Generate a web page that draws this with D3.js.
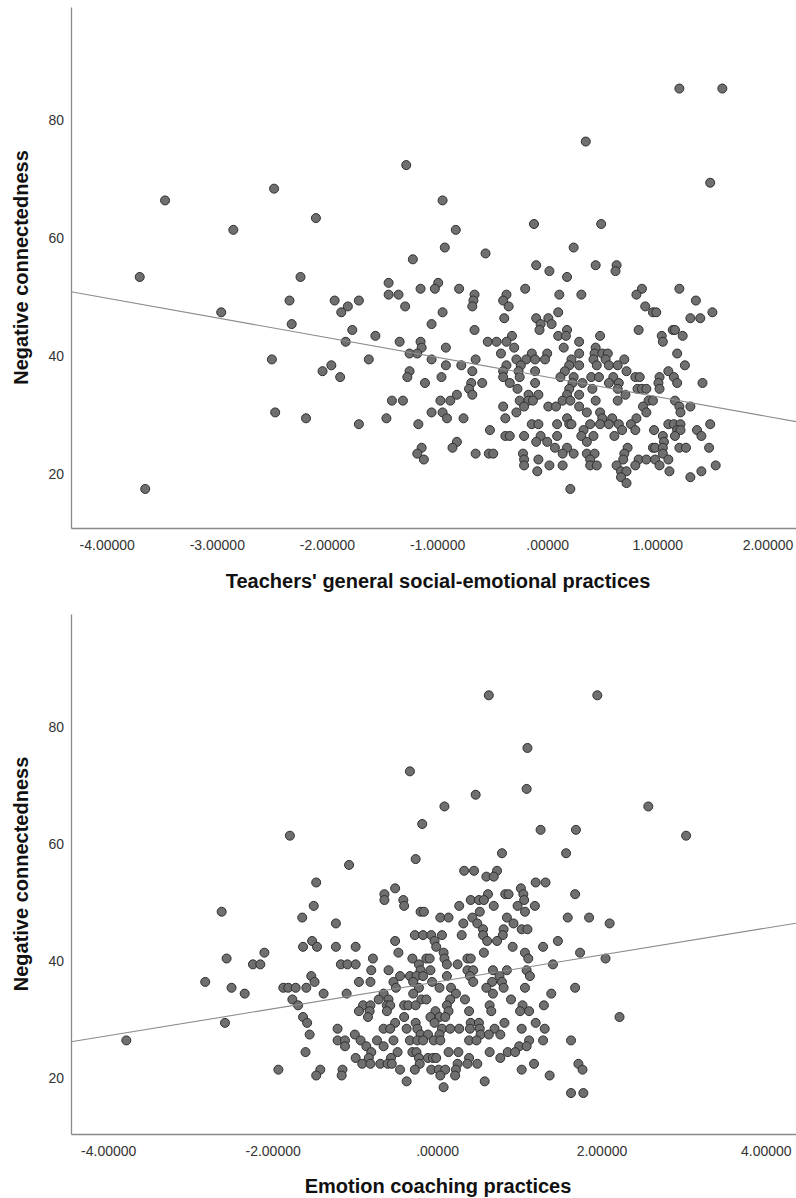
<!DOCTYPE html>
<html>
<head>
<meta charset="utf-8">
<script src="https://cdn.jsdelivr.net/npm/d3@7"></script>
<style>
  body { margin: 0; background: #fff; }
  svg text { font-family: "Liberation Sans", Arial, sans-serif; }
</style>
</head>
<body>
<script>
// tick values
const yTicks = [20, 40, 60, 80];
const gseTicks = [-4, -3, -2, -1, 0, 1, 2];
const ecTicks = [-4, -2, 0, 2, 4];

// fit lines: [intercept, slope]
const gseFit = [36.0, -3.35];
const ecFit = [36.0, 2.30];

// [practice score, negative connectedness]
const gsePoints = [
  [1.20, 85], [1.59, 85], [0.35, 76], [-1.28, 72], [1.48, 69], [-2.48, 68],
  [-3.47, 66], [-0.95, 66], [-2.10, 63], [-0.12, 62], [0.49, 62],
  [-2.85, 61], [-0.83, 61], [-0.93, 58], [0.24, 58], [-0.56, 57], [-1.22, 56],
  [-0.10, 55], [0.44, 55], [0.63, 55], [0.02, 54], [0.62, 54],
  [-3.70, 53], [-2.24, 53], [0.18, 53], [-1.44, 52], [-0.99, 52],
  [-1.15, 51], [-1.02, 51], [-0.80, 51], [-0.20, 51], [0.86, 51], [1.20, 51],
  [-1.44, 50], [-1.35, 50], [-0.66, 50], [-0.37, 50], [0.11, 50], [0.31, 50], [0.81, 50],
  [-2.34, 49], [-1.93, 49], [-1.71, 49], [-0.67, 49], [-0.40, 49], [1.35, 49],
  [-1.81, 48], [-1.29, 48], [-0.68, 48], [-0.35, 48], [0.89, 48],
  [-2.96, 47], [-1.87, 47], [-0.95, 47], [0.10, 47], [0.96, 47], [0.99, 47], [1.50, 47],
  [-0.39, 46], [-0.10, 46], [0.01, 46], [1.30, 46], [1.39, 46],
  [-2.32, 45], [-1.05, 45], [-0.06, 45], [0.04, 45],
  [-1.77, 44], [-0.66, 44], [-0.07, 44], [0.18, 44], [0.83, 44], [1.14, 44], [1.16, 44],
  [-1.56, 43], [-0.32, 43], [0.10, 43], [0.17, 43], [0.48, 43], [1.04, 43], [1.23, 43],
  [-1.83, 42], [-1.34, 42], [-1.15, 42], [-0.54, 42], [-0.46, 42], [-0.37, 42], [0.29, 42], [1.05, 42],
  [-1.14, 41], [-0.92, 41], [-0.30, 41], [0.15, 41], [0.44, 41],
  [-1.25, 40], [-1.18, 40], [-0.42, 40], [-0.14, 40], [0.00, 40], [0.29, 40], [0.43, 40], [0.50, 40], [0.55, 40], [1.18, 40],
  [-2.50, 39], [-1.62, 39], [-1.05, 39], [-0.65, 39], [-0.28, 39], [-0.19, 39], [-0.11, 39], [-0.02, 39], [0.22, 39], [0.42, 39], [0.53, 39], [0.70, 39],
  [-1.96, 38], [-0.92, 38], [-0.78, 38], [-0.37, 38], [-0.24, 38], [0.20, 38], [0.29, 38], [0.45, 38], [0.56, 38], [0.64, 38], [1.25, 38],
  [-2.04, 37], [-1.25, 37], [-0.68, 37], [-0.40, 37], [-0.26, 37], [-0.11, 37], [0.16, 37], [0.72, 37], [1.10, 37],
  [-1.88, 36], [-1.27, 36], [-0.96, 36], [-0.40, 36], [-0.25, 36], [0.12, 36], [0.24, 36], [0.40, 36], [0.47, 36], [0.60, 36], [0.80, 36], [0.84, 36], [1.02, 36], [1.15, 36],
  [-1.11, 35], [-0.69, 35], [-0.59, 35], [-0.34, 35], [-0.11, 35], [0.23, 35], [0.32, 35], [0.56, 35], [0.65, 35], [1.01, 35], [1.18, 35], [1.41, 35],
  [-0.71, 34], [-0.27, 34], [0.20, 34], [0.41, 34], [0.64, 34], [0.82, 34], [0.86, 34], [0.90, 34], [1.02, 34],
  [-0.82, 33], [-0.68, 33], [-0.17, 33], [-0.08, 33], [0.18, 33], [0.29, 33], [0.71, 33],
  [-1.41, 32], [-1.31, 32], [-0.97, 32], [-0.88, 32], [-0.25, 32], [-0.17, 32], [-0.13, 32], [0.14, 32], [0.21, 32], [0.44, 32], [0.64, 32], [0.92, 32], [0.96, 32], [1.16, 32],
  [-0.40, 31], [-0.21, 31], [0.01, 31], [0.08, 31], [0.29, 31], [0.87, 31], [1.20, 31], [1.30, 31],
  [-2.47, 30], [-1.05, 30], [-0.95, 30], [-0.28, 30], [0.36, 30], [0.48, 30], [0.90, 30], [1.21, 30],
  [-2.19, 29], [-1.46, 29], [-0.91, 29], [-0.76, 29], [-0.38, 29], [0.18, 29], [0.50, 29], [0.59, 29], [0.81, 29],
  [-1.71, 28], [-1.17, 28], [-0.14, 28], [-0.08, 28], [0.09, 28], [0.20, 28], [0.22, 28], [0.39, 28], [0.48, 28], [0.56, 28], [0.65, 28], [0.76, 28], [1.10, 28], [1.15, 28], [1.21, 28], [1.48, 28],
  [-0.52, 27], [0.33, 27], [0.68, 27], [0.80, 27], [0.97, 27], [1.18, 27], [1.21, 27], [1.36, 27],
  [-0.38, 26], [-0.34, 26], [-0.21, 26], [-0.06, 26], [0.09, 26], [0.31, 26], [0.42, 26], [0.61, 26], [1.05, 26], [1.16, 26], [1.40, 26],
  [-0.82, 25], [-0.10, 25], [0.00, 25], [0.36, 25], [1.06, 25],
  [-1.14, 24], [-0.86, 24], [0.07, 24], [0.18, 24], [0.73, 24], [0.96, 24], [0.98, 24], [1.05, 24], [1.20, 24], [1.26, 24], [1.47, 24],
  [-1.18, 23], [-0.65, 23], [-0.53, 23], [-0.49, 23], [-0.22, 23], [0.14, 23], [0.24, 23], [0.36, 23], [0.43, 23], [0.70, 23], [1.05, 23],
  [-1.12, 22], [-0.21, 22], [-0.08, 22], [0.39, 22], [0.69, 22], [0.83, 22], [0.90, 22], [0.98, 22], [1.10, 22],
  [-0.21, 21], [0.02, 21], [0.14, 21], [0.39, 21], [0.45, 21], [0.63, 21], [0.80, 21], [1.02, 21], [1.53, 21],
  [-0.09, 20], [0.67, 20], [0.72, 20], [1.11, 20], [1.40, 20],
  [0.67, 19], [1.30, 19], [0.72, 18], [-3.65, 17], [0.21, 17]
];

const ecPoints = [
  [0.63, 85], [1.95, 85], [1.10, 76], [-0.33, 72], [1.09, 69], [0.47, 68],
  [0.09, 66], [2.57, 66], [-0.18, 63], [1.26, 62], [1.69, 62], [-1.79, 61], [3.03, 61],
  [0.79, 58], [1.57, 58], [-0.26, 57], [-1.07, 56],
  [0.33, 55], [0.45, 55], [0.73, 55], [0.60, 54], [0.69, 54],
  [-1.47, 53], [1.20, 53], [1.32, 53], [-0.51, 52], [1.02, 52],
  [-0.64, 51], [0.62, 51], [0.83, 51], [0.87, 51], [1.05, 51], [1.68, 51],
  [-0.64, 50], [-0.41, 50], [0.41, 50], [0.51, 50], [0.57, 50], [1.06, 50],
  [-1.50, 49], [-0.40, 49], [0.27, 49], [0.69, 49], [0.98, 49], [1.19, 49],
  [-2.62, 48], [-0.20, 48], [-0.16, 48], [0.52, 48], [1.07, 48],
  [-1.64, 47], [0.04, 47], [0.14, 47], [0.43, 47], [0.85, 47], [1.59, 47], [1.85, 47],
  [-1.23, 46], [0.32, 46], [0.49, 46], [0.93, 46], [2.10, 46],
  [0.56, 45], [0.81, 45], [1.03, 45], [1.10, 45],
  [-0.27, 44], [-0.17, 44], [-0.07, 44], [0.06, 44], [0.30, 44], [0.56, 44], [0.80, 44],
  [-1.52, 43], [-0.51, 43], [-0.03, 43], [0.61, 43], [0.73, 43], [1.47, 43],
  [-1.63, 42], [-1.46, 42], [-1.23, 42], [-0.99, 42], [-0.01, 42], [0.92, 42], [1.29, 42],
  [-2.10, 41], [-0.47, 41], [0.08, 41], [0.57, 41], [1.07, 41], [1.74, 41],
  [-2.56, 40], [-0.78, 40], [-0.30, 40], [-0.13, 40], [-0.09, 40], [0.09, 40], [0.37, 40], [0.41, 40], [1.11, 40], [2.05, 40],
  [-2.24, 39], [-2.15, 39], [-1.17, 39], [-1.09, 39], [-0.99, 39], [-0.22, 39], [0.12, 39], [0.25, 39], [1.41, 39],
  [-0.80, 38], [-0.59, 38], [-0.20, 38], [-0.08, 38], [0.37, 38], [0.44, 38], [0.68, 38], [0.85, 38], [1.09, 38],
  [-1.53, 37], [-0.45, 37], [-0.33, 37], [-0.25, 37], [-0.17, 37], [0.12, 37], [0.40, 37], [0.76, 37], [1.13, 37],
  [-2.82, 36], [-1.49, 36], [-0.95, 36], [-0.81, 36], [-0.53, 36], [-0.29, 36], [-0.06, 36], [0.44, 36], [0.67, 36], [0.79, 36],
  [-2.50, 35], [-1.87, 35], [-1.81, 35], [-1.72, 35], [-1.59, 35], [-0.50, 35], [-0.22, 35], [0.03, 35], [0.17, 35], [0.60, 35], [0.81, 35], [1.07, 35], [1.68, 35],
  [-2.34, 34], [-1.38, 34], [-1.10, 34], [-0.65, 34], [-0.29, 34], [0.23, 34], [0.68, 34], [1.39, 34],
  [-1.76, 33], [-0.71, 33], [-0.59, 33], [-0.19, 33], [-0.13, 33], [0.16, 33], [0.34, 33], [0.90, 33],
  [-1.69, 32], [-0.90, 32], [-0.81, 32], [-0.61, 32], [-0.57, 32], [-0.40, 32], [-0.35, 32], [-0.26, 32], [0.12, 32], [0.64, 32], [1.04, 32], [1.30, 32],
  [-0.95, 31], [-0.82, 31], [-0.61, 31], [-0.02, 31], [0.14, 31], [0.39, 31], [0.66, 31], [1.01, 31], [1.12, 31],
  [-1.63, 30], [-0.84, 30], [-0.40, 30], [-0.08, 30], [0.03, 30], [0.10, 30], [2.22, 30],
  [-2.58, 29], [-1.58, 29], [-0.51, 29], [-0.26, 29], [-0.03, 29], [0.41, 29], [0.51, 29], [0.82, 29], [1.20, 29],
  [-1.21, 28], [-0.65, 28], [-0.57, 28], [-0.37, 28], [-0.24, 28], [0.06, 28], [0.16, 28], [0.27, 28], [0.40, 28], [0.52, 28], [0.70, 28], [1.03, 28], [1.31, 28],
  [-1.55, 27], [-1.00, 27], [-0.20, 27], [-0.11, 27], [0.03, 27], [0.53, 27], [0.63, 27], [0.77, 27],
  [-3.78, 26], [-1.21, 26], [-1.12, 26], [-0.93, 26], [-0.73, 26], [-0.53, 26], [-0.33, 26], [-0.24, 26], [-0.17, 26], [-0.04, 26], [0.04, 26], [0.39, 26], [0.48, 26], [1.12, 26], [1.29, 26], [1.63, 26],
  [-1.12, 25], [-0.86, 25], [-0.65, 25], [1.00, 25], [1.09, 25],
  [-1.60, 24], [-0.80, 24], [-0.48, 24], [-0.30, 24], [-0.25, 24], [0.14, 24], [0.26, 24], [0.64, 24], [0.86, 24], [0.95, 24],
  [-0.99, 23], [-0.83, 23], [-0.56, 23], [-0.22, 23], [-0.11, 23], [-0.05, 23], [-0.01, 23], [0.39, 23], [0.77, 23],
  [-0.91, 22], [-0.81, 22], [-0.69, 22], [-0.60, 22], [-0.55, 22], [-0.21, 22], [0.25, 22], [0.37, 22], [0.49, 22], [1.18, 22], [1.72, 22],
  [-1.93, 21], [-1.42, 21], [-1.15, 21], [-0.45, 21], [-0.27, 21], [-0.07, 21], [0.02, 21], [0.10, 21], [0.23, 21], [1.03, 21], [1.77, 21],
  [-1.47, 20], [-1.16, 20], [0.04, 20], [0.22, 20], [1.37, 20],
  [-0.37, 19], [0.58, 19], [0.08, 18], [1.63, 17], [1.78, 17]
];

let w = 796;
let h = 1198;
let left = 71;
let right = 796;

let svg = d3.select("body")
  .append("svg")
  .attr("width", w)
  .attr("height", h);

function tickText(d) {
  let s = d.toFixed(5);
  return s.startsWith("0.") ? s.slice(1) : s;
}

function drawPanel(points, fit, xTicks, xTitle, p) {
  let xScale = d3.scaleLinear().domain(p.xDomain).range([left, right]);
  let yScale = d3.scaleLinear().domain(p.yDomain).range([p.bottom, p.top]);

  svg.append("g")
    .selectAll("circle")
    .data(points)
    .enter()
    .append("circle")
    .attr("cx", d => xScale(d[0]))
    .attr("cy", d => yScale(d[1]))
    .attr("r", 4.5)
    .attr("fill", "#6f6f6f")
    .attr("stroke", "#2f2f2f")
    .attr("stroke-width", 1);

  // fit line across the whole x range
  let xd = xScale.domain();
  svg.append("line")
    .attr("x1", xScale(xd[0]))
    .attr("y1", yScale(fit[0] + fit[1] * xd[0]))
    .attr("x2", xScale(xd[1]))
    .attr("y2", yScale(fit[0] + fit[1] * xd[1]))
    .attr("stroke", "#8c8c8c")
    .attr("stroke-width", 1.1);

  let xAxis = d3.axisBottom(xScale)
    .tickValues(xTicks)
    .tickSize(0)
    .tickSizeOuter(0)
    .tickPadding(12)
    .tickFormat(tickText);
  let yAxis = d3.axisLeft(yScale)
    .tickValues(yTicks)
    .tickSize(0)
    .tickSizeOuter(0)
    .tickPadding(7);

  let gx = svg.append("g")
    .attr("transform", "translate(0," + p.bottom + ")")
    .call(xAxis);
  let gy = svg.append("g")
    .attr("transform", "translate(" + left + ",0)")
    .call(yAxis);

  [gx, gy].forEach(g => {
    g.attr("font-family", null).attr("font-size", null);
    g.select(".domain").attr("stroke", "#8a8a8a").attr("stroke-width", 1.3);
    g.selectAll("text").style("font-size", "14px").attr("fill", "#333");
  });
  gy.selectAll("text").attr("dy", "0.5em");

  svg.append("text")
    .attr("x", 438)
    .attr("y", p.titleY)
    .attr("text-anchor", "middle")
    .style("font-size", "20px")
    .style("font-weight", "bold")
    .attr("fill", "#111")
    .text(xTitle);

  svg.append("text")
    .attr("transform", "translate(28," + ((p.top + p.bottom) / 2) + ") rotate(-90)")
    .attr("text-anchor", "middle")
    .style("font-size", "20px")
    .style("font-weight", "bold")
    .attr("fill", "#111")
    .text("Negative connectedness");
}

drawPanel(gsePoints, gseFit, gseTicks, "Teachers' general social-emotional practices",
  {top: 7, bottom: 528, xDomain: [-4.324, 2.259], yDomain: [10.37, 98.85], titleY: 588});
drawPanel(ecPoints, ecFit, ecTicks, "Emotion coaching practices",
  {top: 614, bottom: 1134, xDomain: [-4.453, 4.367], yDomain: [10.0, 98.9], titleY: 1193});
</script>
</body>
</html>
